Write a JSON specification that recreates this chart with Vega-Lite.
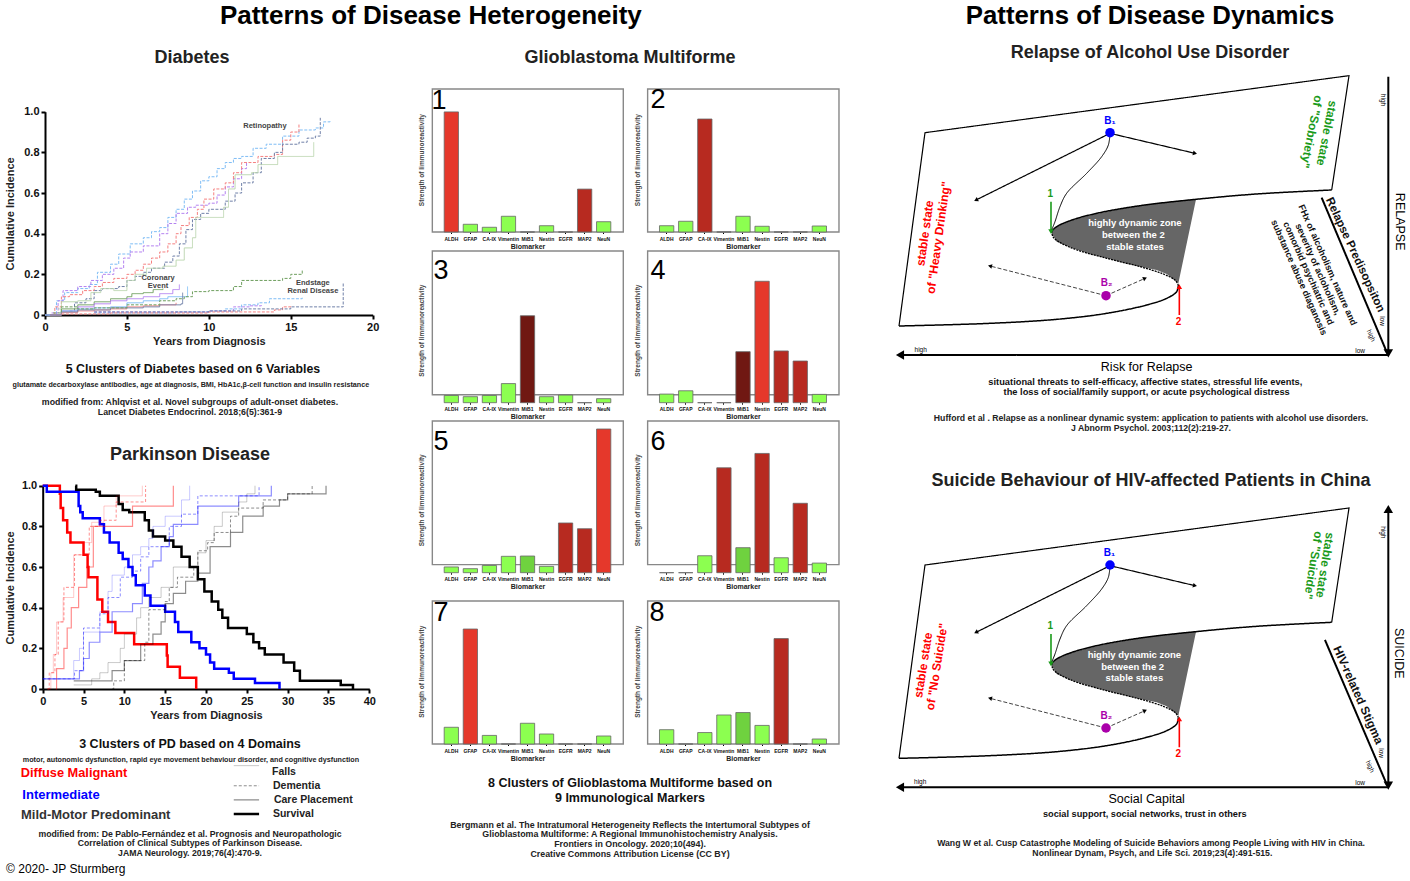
{"$schema":"https://vega.github.io/schema/vega-lite/v6.json","width":1410,"height":881,"padding":0,"autosize":{"type":"none"},"background":"white",
"config":{"font":"Liberation Sans","view":{"stroke":null},"legend":{"disable":true},"axis":{"grid":false,"domainColor":"#000","tickColor":"#000","domainWidth":2,"tickWidth":2,"tickSize":4,"labelFontWeight":"bold","titleFontWeight":"bold","labelFontSize":11,"titleFontSize":11,"labelColor":"#111","titleColor":"#222","labelPadding":2,"titlePadding":3,"labelFlush":false}},
"resolve":{"scale":{"x":"independent","y":"independent","color":"independent","opacity":"independent","strokeDash":"independent","strokeWidth":"independent","size":"independent","angle":"independent"},"axis":{"x":"independent","y":"independent"}},
"datasets":{
"gbm":[
{"c":1,"m":"ALDH","v":0.84,"l":"H1"},{"c":1,"m":"GFAP","v":0.054,"l":"L"},{"c":1,"m":"CA-IX","v":0.033,"l":"L"},{"c":1,"m":"Vimentin","v":0.11,"l":"L"},{"c":1,"m":"MiB1","v":0,"l":"L"},{"c":1,"m":"Nestin","v":0.044,"l":"L"},{"c":1,"m":"EGFR","v":0,"l":"L"},{"c":1,"m":"MAP2","v":0.3,"l":"H2"},{"c":1,"m":"NeuN","v":0.072,"l":"L"},
{"c":2,"m":"ALDH","v":0.044,"l":"L"},{"c":2,"m":"GFAP","v":0.075,"l":"L"},{"c":2,"m":"CA-IX","v":0.79,"l":"H2"},{"c":2,"m":"Vimentin","v":0,"l":"L"},{"c":2,"m":"MiB1","v":0.11,"l":"L"},{"c":2,"m":"Nestin","v":0.04,"l":"L"},{"c":2,"m":"EGFR","v":0,"l":"L"},{"c":2,"m":"MAP2","v":0,"l":"L"},{"c":2,"m":"NeuN","v":0.042,"l":"L"},
{"c":3,"m":"ALDH","v":0.05,"l":"L"},{"c":3,"m":"GFAP","v":0.042,"l":"L"},{"c":3,"m":"CA-IX","v":0.05,"l":"L"},{"c":3,"m":"Vimentin","v":0.133,"l":"L"},{"c":3,"m":"MiB1","v":0.605,"l":"H3"},{"c":3,"m":"Nestin","v":0.042,"l":"L"},{"c":3,"m":"EGFR","v":0.053,"l":"L"},{"c":3,"m":"MAP2","v":0,"l":"L"},{"c":3,"m":"NeuN","v":0.028,"l":"L"},
{"c":4,"m":"ALDH","v":0.06,"l":"L"},{"c":4,"m":"GFAP","v":0.083,"l":"L"},{"c":4,"m":"CA-IX","v":0,"l":"L"},{"c":4,"m":"Vimentin","v":0,"l":"L"},{"c":4,"m":"MiB1","v":0.355,"l":"H3"},{"c":4,"m":"Nestin","v":0.845,"l":"H1"},{"c":4,"m":"EGFR","v":0.36,"l":"H2"},{"c":4,"m":"MAP2","v":0.29,"l":"H2"},{"c":4,"m":"NeuN","v":0.058,"l":"L"},
{"c":5,"m":"ALDH","v":0.04,"l":"L"},{"c":5,"m":"GFAP","v":0.028,"l":"L"},{"c":5,"m":"CA-IX","v":0.05,"l":"L"},{"c":5,"m":"Vimentin","v":0.114,"l":"L"},{"c":5,"m":"MiB1","v":0.116,"l":"M"},{"c":5,"m":"Nestin","v":0.044,"l":"L"},{"c":5,"m":"EGFR","v":0.346,"l":"H2"},{"c":5,"m":"MAP2","v":0.306,"l":"H2"},{"c":5,"m":"NeuN","v":1,"l":"H1"},
{"c":6,"m":"ALDH","v":0,"l":"L"},{"c":6,"m":"GFAP","v":0,"l":"L"},{"c":6,"m":"CA-IX","v":0.118,"l":"L"},{"c":6,"m":"Vimentin","v":0.73,"l":"H2"},{"c":6,"m":"MiB1","v":0.174,"l":"M"},{"c":6,"m":"Nestin","v":0.83,"l":"H2"},{"c":6,"m":"EGFR","v":0.104,"l":"L"},{"c":6,"m":"MAP2","v":0.483,"l":"H2"},{"c":6,"m":"NeuN","v":0.067,"l":"L"},
{"c":7,"m":"ALDH","v":0.117,"l":"L"},{"c":7,"m":"GFAP","v":0.804,"l":"H1"},{"c":7,"m":"CA-IX","v":0.06,"l":"L"},{"c":7,"m":"Vimentin","v":0,"l":"L"},{"c":7,"m":"MiB1","v":0.145,"l":"L"},{"c":7,"m":"Nestin","v":0.07,"l":"L"},{"c":7,"m":"EGFR","v":0,"l":"L"},{"c":7,"m":"MAP2","v":0,"l":"L"},{"c":7,"m":"NeuN","v":0.056,"l":"L"},
{"c":8,"m":"ALDH","v":0.1,"l":"L"},{"c":8,"m":"GFAP","v":0,"l":"L"},{"c":8,"m":"CA-IX","v":0.08,"l":"L"},{"c":8,"m":"Vimentin","v":0.203,"l":"L"},{"c":8,"m":"MiB1","v":0.22,"l":"M"},{"c":8,"m":"Nestin","v":0.13,"l":"L"},{"c":8,"m":"EGFR","v":0.737,"l":"H2"},{"c":8,"m":"MAP2","v":0,"l":"L"},{"c":8,"m":"NeuN","v":0.035,"l":"L"}],
"zone":[{"x":31.09,"y":56.49,"y2":55.86},{"x":32.05,"y":57.66,"y2":53.6},{"x":34.62,"y":59.28,"y2":52.07},{"x":38.46,"y":60.72,"y2":50.27},{"x":41.67,"y":61.71,"y2":49.1},{"x":44.87,"y":62.61,"y2":47.93},{"x":48.08,"y":63.33,"y2":46.85},{"x":51.28,"y":63.96,"y2":45.95},{"x":53.21,"y":64.23,"y2":44.86},{"x":55.45,"y":64.68,"y2":42.34},{"x":58.85,"y":65.05,"y2":65.05}],
"straight":[
{"s":"edge","k":"edge","o":0,"x":1.73,"y":30.81},{"s":"edge","k":"edge","o":1,"x":6.73,"y":83.06},{"s":"edge","k":"edge","o":2,"x":88.27,"y":98.47},{"s":"edge","k":"edge","o":3,"x":84.94,"y":67.57},
{"s":"a1","k":"arrow","o":0,"x":42.31,"y":82.88},{"s":"a1","k":"arrow","o":1,"x":16.54,"y":64.86},
{"s":"a2","k":"arrow","o":0,"x":42.31,"y":82.88},{"s":"a2","k":"arrow","o":1,"x":58.65,"y":77.48},
{"s":"d1","k":"dash","o":0,"x":41.54,"y":39.01},{"s":"d1","k":"dash","o":1,"x":19.23,"y":47.03},
{"s":"d2","k":"dash","o":0,"x":41.54,"y":39.01},{"s":"d2","k":"dash","o":1,"x":49.04,"y":43.69},
{"s":"gr","k":"green","o":0,"x":30.96,"y":64.41},{"s":"gr","k":"green","o":1,"x":30.96,"y":56.31},
{"s":"rd","k":"red","o":0,"x":55.64,"y":33.78},{"s":"rd","k":"red","o":1,"x":55.64,"y":41.44},
{"s":"ah","k":"axis","o":0,"x":95.83,"y":22.97},{"s":"ah","k":"axis","o":1,"x":1.92,"y":22.97},
{"s":"av","k":"axis","o":0,"x":95.83,"y":98.2},{"s":"av","k":"axis","o":1,"x":95.83,"y":23.42},
{"s":"dg","k":"axis","p":1,"o":0,"x":83.01,"y":65.5},{"s":"dg","k":"axis","p":1,"o":1,"x":95.5,"y":23.87},
{"s":"dg","k":"axis","p":2,"o":0,"x":83.65,"y":62.8},{"s":"dg","k":"axis","p":2,"o":1,"x":95.5,"y":23.87}],
"curves":[
{"s":"up","k":"solid","o":0,"x":84.94,"y":67.57},{"s":"up","k":"solid","o":1,"x":70.51,"y":66.49},{"s":"up","k":"solid","o":2,"x":58.85,"y":65.05},{"s":"up","k":"solid","o":3,"x":48.08,"y":63.33},{"s":"up","k":"solid","o":4,"x":39.74,"y":61.26},{"s":"up","k":"solid","o":5,"x":34.62,"y":59.28},{"s":"up","k":"solid","o":6,"x":32.05,"y":57.66},{"s":"up","k":"solid","o":7,"x":31.09,"y":56.49},
{"s":"fo","k":"dash","o":0,"x":31.09,"y":56.49},{"s":"fo","k":"dash","o":1,"x":31.41,"y":54.77},{"s":"fo","k":"dash","o":2,"x":34.62,"y":52.07},{"s":"fo","k":"dash","o":3,"x":41.67,"y":49.1},{"s":"fo","k":"dash","o":4,"x":48.08,"y":46.85},{"s":"fo","k":"dash","o":5,"x":52.56,"y":44.86},{"s":"fo","k":"dash","o":6,"x":54.81,"y":43.24},{"s":"fo","k":"dash","o":7,"x":55.45,"y":41.89},
{"s":"lo","k":"solid","o":0,"x":55.45,"y":41.89},{"s":"lo","k":"solid","o":1,"x":55.13,"y":40.09},{"s":"lo","k":"solid","o":2,"x":53.21,"y":38.29},{"s":"lo","k":"solid","o":3,"x":49.36,"y":36.49},{"s":"lo","k":"solid","o":4,"x":41.67,"y":34.23},{"s":"lo","k":"solid","o":5,"x":32.05,"y":32.61},{"s":"lo","k":"solid","o":6,"x":19.23,"y":31.53},{"s":"lo","k":"solid","o":7,"x":1.73,"y":30.81},
{"s":"b1","k":"thin","o":0,"x":42.31,"y":82.88},{"s":"b1","k":"thin","o":1,"x":41.99,"y":79.73},{"s":"b1","k":"thin","o":2,"x":40.71,"y":76.58},{"s":"b1","k":"thin","o":3,"x":37.82,"y":72.07},{"s":"b1","k":"thin","o":4,"x":33.97,"y":66.67},{"s":"b1","k":"thin","o":5,"x":32.69,"y":63.06},{"s":"b1","k":"thin","o":6,"x":31.73,"y":59.01},{"s":"b1","k":"thin","o":7,"x":31.09,"y":56.76}],
"heads":[{"x":16.54,"y":64.86,"a":243.6,"k":"small"},{"x":58.65,"y":77.48,"a":103,"k":"small"},{"x":19.23,"y":47.03,"a":284,"k":"small"},{"x":49.04,"y":43.69,"a":66,"k":"small"},{"x":30.96,"y":56.31,"a":180,"k":"green"},{"x":55.64,"y":41.44,"a":0,"k":"red"},{"x":1.92,"y":22.97,"a":270,"k":"big"},{"x":95.83,"y":23.42,"a":180,"k":"big"},{"x":95.83,"y":98.2,"a":0,"k":"big","p":2}],
"dots":[{"x":42.31,"y":83.06,"k":"B1"},{"x":41.54,"y":39.01,"k":"B2"}]
},
"layer":[
{"data":{"values":[
{"e":"R","c":"blue","x":0.2,"y":0},{"e":"R","c":"blue","x":0.7,"y":0.07},{"e":"R","c":"blue","x":1.2,"y":0.11},{"e":"R","c":"blue","x":2,"y":0.13},{"e":"R","c":"blue","x":2.7,"y":0.15},{"e":"R","c":"blue","x":3.2,"y":0.21},{"e":"R","c":"blue","x":4,"y":0.25},{"e":"R","c":"blue","x":4.5,"y":0.3},{"e":"R","c":"blue","x":5.2,"y":0.35},{"e":"R","c":"blue","x":6,"y":0.38},{"e":"R","c":"blue","x":6.5,"y":0.41},{"e":"R","c":"blue","x":7,"y":0.43},{"e":"R","c":"blue","x":7.5,"y":0.48},{"e":"R","c":"blue","x":8,"y":0.52},{"e":"R","c":"blue","x":8.5,"y":0.57},{"e":"R","c":"blue","x":9,"y":0.61},{"e":"R","c":"blue","x":9.5,"y":0.66},{"e":"R","c":"blue","x":10,"y":0.68},{"e":"R","c":"blue","x":10.5,"y":0.72},{"e":"R","c":"blue","x":11,"y":0.75},{"e":"R","c":"blue","x":11.5,"y":0.77},{"e":"R","c":"blue","x":12,"y":0.78},{"e":"R","c":"blue","x":12.7,"y":0.82},{"e":"R","c":"blue","x":13.5,"y":0.84},{"e":"R","c":"blue","x":14.5,"y":0.88},{"e":"R","c":"blue","x":15.5,"y":0.91},{"e":"R","c":"blue","x":16.5,"y":0.92},{"e":"R","c":"blue","x":17,"y":0.95},{"e":"R","c":"blue","x":17.4,"y":0.96},
{"e":"R","c":"purple","x":0.4,"y":0.01},{"e":"R","c":"purple","x":0.8,"y":0.07},{"e":"R","c":"purple","x":1.1,"y":0.12},{"e":"R","c":"purple","x":2,"y":0.14},{"e":"R","c":"purple","x":2.8,"y":0.17},{"e":"R","c":"purple","x":3.5,"y":0.2},{"e":"R","c":"purple","x":4.2,"y":0.23},{"e":"R","c":"purple","x":4.8,"y":0.28},{"e":"R","c":"purple","x":5.2,"y":0.31},{"e":"R","c":"purple","x":6,"y":0.34},{"e":"R","c":"purple","x":7,"y":0.4},{"e":"R","c":"purple","x":7.5,"y":0.45},{"e":"R","c":"purple","x":8,"y":0.5},{"e":"R","c":"purple","x":8.7,"y":0.53},{"e":"R","c":"purple","x":9.2,"y":0.54},{"e":"R","c":"purple","x":10,"y":0.55},{"e":"R","c":"purple","x":10.5,"y":0.59},{"e":"R","c":"purple","x":11,"y":0.63},{"e":"R","c":"purple","x":11.5,"y":0.67},{"e":"R","c":"purple","x":12,"y":0.72},{"e":"R","c":"purple","x":12.3,"y":0.75},
{"e":"R","c":"red","x":0.3,"y":0},{"e":"R","c":"red","x":0.6,"y":0.04},{"e":"R","c":"red","x":1,"y":0.09},{"e":"R","c":"red","x":1.5,"y":0.1},{"e":"R","c":"red","x":2.3,"y":0.12},{"e":"R","c":"red","x":3,"y":0.14},{"e":"R","c":"red","x":3.5,"y":0.16},{"e":"R","c":"red","x":4.2,"y":0.18},{"e":"R","c":"red","x":5,"y":0.2},{"e":"R","c":"red","x":5.5,"y":0.22},{"e":"R","c":"red","x":6,"y":0.25},{"e":"R","c":"red","x":6.5,"y":0.28},{"e":"R","c":"red","x":7,"y":0.31},{"e":"R","c":"red","x":7.5,"y":0.35},{"e":"R","c":"red","x":8,"y":0.4},{"e":"R","c":"red","x":8.3,"y":0.44},{"e":"R","c":"red","x":8.8,"y":0.48},{"e":"R","c":"red","x":9.3,"y":0.52},{"e":"R","c":"red","x":9.7,"y":0.57},{"e":"R","c":"red","x":10.3,"y":0.62},{"e":"R","c":"red","x":11,"y":0.65},{"e":"R","c":"red","x":11.5,"y":0.7},{"e":"R","c":"red","x":12,"y":0.75},{"e":"R","c":"red","x":13,"y":0.78},{"e":"R","c":"red","x":14,"y":0.79},{"e":"R","c":"red","x":14.5,"y":0.86},{"e":"R","c":"red","x":15,"y":0.9},{"e":"R","c":"red","x":15.5,"y":0.94},
{"e":"R","c":"slate","x":1.5,"y":0.02},{"e":"R","c":"slate","x":1.8,"y":0.06},{"e":"R","c":"slate","x":2.5,"y":0.08},{"e":"R","c":"slate","x":3,"y":0.12},{"e":"R","c":"slate","x":3.5,"y":0.13},{"e":"R","c":"slate","x":4.5,"y":0.14},{"e":"R","c":"slate","x":5,"y":0.17},{"e":"R","c":"slate","x":5.5,"y":0.19},{"e":"R","c":"slate","x":6,"y":0.21},{"e":"R","c":"slate","x":6.5,"y":0.23},{"e":"R","c":"slate","x":7.3,"y":0.26},{"e":"R","c":"slate","x":7.8,"y":0.29},{"e":"R","c":"slate","x":8.2,"y":0.35},{"e":"R","c":"slate","x":8.6,"y":0.42},{"e":"R","c":"slate","x":9,"y":0.47},{"e":"R","c":"slate","x":9.5,"y":0.5},{"e":"R","c":"slate","x":10,"y":0.52},{"e":"R","c":"slate","x":11,"y":0.56},{"e":"R","c":"slate","x":11.6,"y":0.6},{"e":"R","c":"slate","x":12,"y":0.65},{"e":"R","c":"slate","x":12.7,"y":0.7},{"e":"R","c":"slate","x":13.2,"y":0.77},{"e":"R","c":"slate","x":14,"y":0.8},{"e":"R","c":"slate","x":14.5,"y":0.84},{"e":"R","c":"slate","x":15.5,"y":0.85},{"e":"R","c":"slate","x":16,"y":0.87},{"e":"R","c":"slate","x":16.5,"y":0.88},{"e":"R","c":"slate","x":16.8,"y":0.97},
{"e":"C","c":"lgreen","x":0.8,"y":0.03},{"e":"C","c":"lgreen","x":1,"y":0.065},{"e":"C","c":"lgreen","x":2,"y":0.07},{"e":"C","c":"lgreen","x":2.8,"y":0.11},{"e":"C","c":"lgreen","x":3.4,"y":0.13},{"e":"C","c":"lgreen","x":4.2,"y":0.12},{"e":"C","c":"lgreen","x":5,"y":0.17},{"e":"C","c":"lgreen","x":5.5,"y":0.2},{"e":"C","c":"lgreen","x":6.2,"y":0.23},{"e":"C","c":"lgreen","x":7.2,"y":0.24},{"e":"C","c":"lgreen","x":8,"y":0.27},{"e":"C","c":"lgreen","x":8.5,"y":0.33},{"e":"C","c":"lgreen","x":9,"y":0.38},{"e":"C","c":"lgreen","x":9.2,"y":0.48},{"e":"C","c":"lgreen","x":10.5,"y":0.48},{"e":"C","c":"lgreen","x":10.9,"y":0.53},{"e":"C","c":"lgreen","x":11.2,"y":0.62},{"e":"C","c":"lgreen","x":11.6,"y":0.69},{"e":"C","c":"lgreen","x":12.6,"y":0.7},{"e":"C","c":"lgreen","x":13,"y":0.74},{"e":"C","c":"lgreen","x":14.2,"y":0.78},{"e":"C","c":"lgreen","x":16.3,"y":0.78},{"e":"C","c":"lgreen","x":16.4,"y":0.85},
{"e":"C","c":"green","x":0,"y":0},{"e":"C","c":"green","x":1,"y":0.03},{"e":"C","c":"green","x":2,"y":0.05},{"e":"C","c":"green","x":3,"y":0.065},{"e":"C","c":"green","x":4,"y":0.08},{"e":"C","c":"green","x":5,"y":0.09},{"e":"C","c":"green","x":5.3,"y":0.105},{"e":"C","c":"green","x":6,"y":0.11},{"e":"C","c":"green","x":6.6,"y":0.125},{"e":"C","c":"green","x":7.2,"y":0.13},
{"e":"C","c":"purple","x":0,"y":0},{"e":"C","c":"purple","x":1,"y":0.02},{"e":"C","c":"purple","x":2,"y":0.04},{"e":"C","c":"purple","x":3,"y":0.055},{"e":"C","c":"purple","x":4,"y":0.07},{"e":"C","c":"purple","x":5,"y":0.08},{"e":"C","c":"purple","x":6,"y":0.09},{"e":"C","c":"purple","x":7,"y":0.105},{"e":"C","c":"purple","x":7.8,"y":0.125},{"e":"C","c":"purple","x":8.2,"y":0.15},
{"e":"C","c":"blue","x":0,"y":0},{"e":"C","c":"blue","x":1,"y":0.02},{"e":"C","c":"blue","x":2,"y":0.03},{"e":"C","c":"blue","x":3,"y":0.035},{"e":"C","c":"blue","x":4,"y":0.04},{"e":"C","c":"blue","x":5,"y":0.06},{"e":"C","c":"blue","x":6,"y":0.07},{"e":"C","c":"blue","x":7,"y":0.08},{"e":"C","c":"blue","x":7.5,"y":0.09},{"e":"C","c":"blue","x":8.5,"y":0.09},{"e":"C","c":"blue","x":8.7,"y":0.14},
{"e":"C","c":"red","x":0.3,"y":0},{"e":"C","c":"red","x":1,"y":0.012},{"e":"C","c":"red","x":2,"y":0.02},{"e":"C","c":"red","x":3,"y":0.025},{"e":"C","c":"red","x":4,"y":0.03},{"e":"C","c":"red","x":5,"y":0.04},{"e":"C","c":"red","x":6,"y":0.045},{"e":"C","c":"red","x":7,"y":0.05},{"e":"C","c":"red","x":8,"y":0.06},
{"e":"C","c":"slate","x":0.3,"y":0},{"e":"C","c":"slate","x":1,"y":0.015},{"e":"C","c":"slate","x":2,"y":0.025},{"e":"C","c":"slate","x":4,"y":0.035},{"e":"C","c":"slate","x":6,"y":0.04},{"e":"C","c":"slate","x":7,"y":0.05},{"e":"C","c":"slate","x":8.3,"y":0.055},{"e":"C","c":"slate","x":8.4,"y":0.11},
{"e":"E","c":"green","x":0.5,"y":0.01},{"e":"E","c":"green","x":1,"y":0.04},{"e":"E","c":"green","x":2,"y":0.03},{"e":"E","c":"green","x":3,"y":0.035},{"e":"E","c":"green","x":5,"y":0.05},{"e":"E","c":"green","x":7,"y":0.07},{"e":"E","c":"green","x":8,"y":0.08},{"e":"E","c":"green","x":8.5,"y":0.09},{"e":"E","c":"green","x":9,"y":0.115},{"e":"E","c":"green","x":10,"y":0.12},{"e":"E","c":"green","x":11,"y":0.12},{"e":"E","c":"green","x":11.5,"y":0.14},{"e":"E","c":"green","x":12,"y":0.17},{"e":"E","c":"green","x":13,"y":0.17},{"e":"E","c":"green","x":14.5,"y":0.18},{"e":"E","c":"green","x":15,"y":0.2},{"e":"E","c":"green","x":15.7,"y":0.22},
{"e":"E","c":"blue","x":3,"y":0.01},{"e":"E","c":"blue","x":8,"y":0.015},{"e":"E","c":"blue","x":10,"y":0.02},{"e":"E","c":"blue","x":11,"y":0.03},{"e":"E","c":"blue","x":12,"y":0.05},{"e":"E","c":"blue","x":13,"y":0.06},{"e":"E","c":"blue","x":13.7,"y":0.08},{"e":"E","c":"blue","x":15.7,"y":0.085},
{"e":"E","c":"purple","x":3,"y":0.015},{"e":"E","c":"purple","x":8,"y":0.015},{"e":"E","c":"purple","x":10,"y":0.02},{"e":"E","c":"purple","x":11.5,"y":0.04},{"e":"E","c":"purple","x":12.5,"y":0.045},{"e":"E","c":"purple","x":13.2,"y":0.05},
{"e":"E","c":"red","x":1,"y":0.005},{"e":"E","c":"red","x":4,"y":0.01},{"e":"E","c":"red","x":8,"y":0.01},{"e":"E","c":"red","x":10,"y":0.015},{"e":"E","c":"red","x":13,"y":0.015},{"e":"E","c":"red","x":14,"y":0.025},{"e":"E","c":"red","x":14.5,"y":0.04},{"e":"E","c":"red","x":15,"y":0.05},
{"e":"E","c":"slate","x":3,"y":0.015},{"e":"E","c":"slate","x":9,"y":0.015},{"e":"E","c":"slate","x":10,"y":0.02},{"e":"E","c":"slate","x":12,"y":0.03},{"e":"E","c":"slate","x":13,"y":0.03},{"e":"E","c":"slate","x":15,"y":0.04},{"e":"E","c":"slate","x":18,"y":0.04},{"e":"E","c":"slate","x":18.2,"y":0.16}]},
"mark":{"type":"line","interpolate":"step-after","strokeWidth":1},
"encoding":{"x":{"field":"x","type":"quantitative","scale":{"domain":[0,20],"range":[45,372.7]},"axis":{"orient":"bottom","offset":-566,"values":[0,5,10,15,20],"title":"Years from Diagnosis"}},"y":{"field":"y","type":"quantitative","scale":{"domain":[0,1],"range":[315,111.7]},"axis":{"orient":"left","offset":-45,"values":[0,0.2,0.4,0.6,0.8,1],"title":"Cumulative Incidence","titlePadding":8,"labelExpr":"datum.value===0?'0':format(datum.value,'.1f')"}},"color":{"field":"c","type":"nominal","scale":{"domain":["blue","purple","red","slate","lgreen","green"],"range":["#7fbdf5","#b482f0","#f58080","#7080a8","#bcd6b0","#6f9f5f"]}},"strokeDash":{"field":"e","type":"nominal","scale":{"domain":["R","C","E"],"range":[[3,1.5],[1,0],[3,1.5]]}}}},
{"data":{"values":[
{"t":"Patterns of Disease Heterogeneity","r":"title","x":23.55,"y":1.472},{"t":"Diabetes","r":"head","x":8.97,"y":1.264},
{"t":"Retinopathy","r":"ann","x":13.42,"y":0.93},{"t":"Coronary","r":"ann","x":6.9,"y":0.182},{"t":"Event","r":"ann","x":6.9,"y":0.143},{"t":"Endstage","r":"ann","x":16.35,"y":0.157},{"t":"Renal Disease","r":"ann","x":16.35,"y":0.118},
{"t":"5 Clusters of Diabetes based on 6 Variables","r":"sub","x":9.03,"y":-0.266},
{"t":"glutamate decarboxylase antibodies, age at diagnosis, BMI, HbA1c,β-cell function and insulin resistance","r":"note","x":8.9,"y":-0.344},
{"t":"modified from: Ahlqvist et al. Novel subgroups of adult-onset diabetes.","r":"cap","x":8.85,"y":-0.428},{"t":"Lancet Diabetes Endocrinol. 2018;6(5):361-9","r":"cap","x":8.85,"y":-0.477}]},
"mark":{"type":"text","fontWeight":"bold","align":"center","baseline":"middle"},
"encoding":{"x":{"field":"x","type":"quantitative","scale":{"domain":[0,20],"range":[45,372.7]},"axis":null},"y":{"field":"y","type":"quantitative","scale":{"domain":[0,1],"range":[315,111.7]},"axis":null},"text":{"field":"t"},"size":{"field":"r","type":"nominal","scale":{"type":"ordinal","domain":["title","head","sub","note","cap","ann"],"range":[26,18,12.3,7.2,8.8,7.5]}},"color":{"field":"r","type":"nominal","scale":{"domain":["title","head","sub","note","cap","ann"],"range":["#000","#222","#111","#222","#222","#444"]}}}},
{"data":{"values":[
{"c":"M","m":"S","x":0,"y":1},{"c":"M","m":"S","x":2.1,"y":0.96},{"c":"M","m":"S","x":2.2,"y":0.89},{"c":"M","m":"S","x":2.5,"y":0.83},{"c":"M","m":"S","x":3,"y":0.77},{"c":"M","m":"S","x":3.4,"y":0.72},{"c":"M","m":"S","x":5,"y":0.66},{"c":"M","m":"S","x":5.5,"y":0.6},{"c":"M","m":"S","x":5.6,"y":0.55},{"c":"M","m":"S","x":6.7,"y":0.44},{"c":"M","m":"S","x":7.3,"y":0.38},{"c":"M","m":"S","x":8,"y":0.33},{"c":"M","m":"S","x":8.9,"y":0.275},{"c":"M","m":"S","x":11.2,"y":0.22},{"c":"M","m":"S","x":15.2,"y":0.165},{"c":"M","m":"S","x":15.3,"y":0.11},{"c":"M","m":"S","x":16.8,"y":0.055},{"c":"M","m":"S","x":18.8,"y":0},
{"c":"I","m":"S","x":0,"y":1},{"c":"I","m":"S","x":0.5,"y":0.97},{"c":"I","m":"S","x":4.4,"y":0.9},{"c":"I","m":"S","x":4.6,"y":0.87},{"c":"I","m":"S","x":4.9,"y":0.84},{"c":"I","m":"S","x":7,"y":0.81},{"c":"I","m":"S","x":7.5,"y":0.77},{"c":"I","m":"S","x":8.2,"y":0.72},{"c":"I","m":"S","x":9.3,"y":0.67},{"c":"I","m":"S","x":9.8,"y":0.64},{"c":"I","m":"S","x":10.5,"y":0.6},{"c":"I","m":"S","x":11,"y":0.56},{"c":"I","m":"S","x":11.4,"y":0.51},{"c":"I","m":"S","x":12.5,"y":0.46},{"c":"I","m":"S","x":13.2,"y":0.41},{"c":"I","m":"S","x":15,"y":0.38},{"c":"I","m":"S","x":16.2,"y":0.33},{"c":"I","m":"S","x":16.6,"y":0.28},{"c":"I","m":"S","x":18.2,"y":0.23},{"c":"I","m":"S","x":19.2,"y":0.2},{"c":"I","m":"S","x":20,"y":0.17},{"c":"I","m":"S","x":20.5,"y":0.13},{"c":"I","m":"S","x":21,"y":0.1},{"c":"I","m":"S","x":22.8,"y":0.08},{"c":"I","m":"S","x":23.4,"y":0.05},{"c":"I","m":"S","x":26,"y":0.03},{"c":"I","m":"S","x":29,"y":0},
{"c":"K","m":"S","x":4,"y":1},{"c":"K","m":"S","x":4.1,"y":0.98},{"c":"K","m":"S","x":6.5,"y":0.97},{"c":"K","m":"S","x":7,"y":0.95},{"c":"K","m":"S","x":9.3,"y":0.91},{"c":"K","m":"S","x":9.8,"y":0.88},{"c":"K","m":"S","x":10.6,"y":0.87},{"c":"K","m":"S","x":12.5,"y":0.83},{"c":"K","m":"S","x":13,"y":0.78},{"c":"K","m":"S","x":13.5,"y":0.75},{"c":"K","m":"S","x":15,"y":0.73},{"c":"K","m":"S","x":16,"y":0.7},{"c":"K","m":"S","x":17,"y":0.65},{"c":"K","m":"S","x":18,"y":0.6},{"c":"K","m":"S","x":19,"y":0.54},{"c":"K","m":"S","x":19.8,"y":0.48},{"c":"K","m":"S","x":20.7,"y":0.43},{"c":"K","m":"S","x":21.5,"y":0.39},{"c":"K","m":"S","x":22,"y":0.35},{"c":"K","m":"S","x":22.7,"y":0.3},{"c":"K","m":"S","x":25,"y":0.27},{"c":"K","m":"S","x":25.8,"y":0.23},{"c":"K","m":"S","x":26.5,"y":0.2},{"c":"K","m":"S","x":27.2,"y":0.17},{"c":"K","m":"S","x":29.5,"y":0.13},{"c":"K","m":"S","x":30.8,"y":0.09},{"c":"K","m":"S","x":31.5,"y":0.04},{"c":"K","m":"S","x":36.5,"y":0.02},{"c":"K","m":"S","x":38,"y":0},
{"c":"M","m":"F","x":0.5,"y":0},{"c":"M","m":"F","x":1,"y":0.08},{"c":"M","m":"F","x":1.3,"y":0.17},{"c":"M","m":"F","x":1.7,"y":0.33},{"c":"M","m":"F","x":2.5,"y":0.45},{"c":"M","m":"F","x":3.8,"y":0.66},{"c":"M","m":"F","x":5,"y":0.72},{"c":"M","m":"F","x":6,"y":0.82},{"c":"M","m":"F","x":7.5,"y":0.9},{"c":"M","m":"F","x":9,"y":0.95},{"c":"M","m":"F","x":12.2,"y":1},
{"c":"M","m":"D","x":0.6,"y":0},{"c":"M","m":"D","x":0.8,"y":0.08},{"c":"M","m":"D","x":1.5,"y":0.17},{"c":"M","m":"D","x":1.9,"y":0.33},{"c":"M","m":"D","x":2.6,"y":0.5},{"c":"M","m":"D","x":3.9,"y":0.66},{"c":"M","m":"D","x":5.7,"y":0.8},{"c":"M","m":"D","x":7,"y":0.83},{"c":"M","m":"D","x":9,"y":0.92},{"c":"M","m":"D","x":12.6,"y":1},
{"c":"M","m":"C","x":1.6,"y":0},{"c":"M","m":"C","x":1.7,"y":0.1},{"c":"M","m":"C","x":2.6,"y":0.2},{"c":"M","m":"C","x":3,"y":0.3},{"c":"M","m":"C","x":3.5,"y":0.4},{"c":"M","m":"C","x":4.4,"y":0.5},{"c":"M","m":"C","x":5.4,"y":0.6},{"c":"M","m":"C","x":6.2,"y":0.8},{"c":"M","m":"C","x":11,"y":0.9},{"c":"M","m":"C","x":16,"y":1},
{"c":"I","m":"F","x":0,"y":0.05},{"c":"I","m":"F","x":3,"y":0.05},{"c":"I","m":"F","x":3.8,"y":0.14},{"c":"I","m":"F","x":4.5,"y":0.2},{"c":"I","m":"F","x":5,"y":0.28},{"c":"I","m":"F","x":7,"y":0.38},{"c":"I","m":"F","x":8,"y":0.48},{"c":"I","m":"F","x":8.5,"y":0.56},{"c":"I","m":"F","x":10,"y":0.6},{"c":"I","m":"F","x":11,"y":0.66},{"c":"I","m":"F","x":12,"y":0.7},{"c":"I","m":"F","x":13,"y":0.74},{"c":"I","m":"F","x":13.5,"y":0.8},{"c":"I","m":"F","x":15,"y":0.85},{"c":"I","m":"F","x":17,"y":0.93},{"c":"I","m":"F","x":18,"y":1},
{"c":"I","m":"D","x":0,"y":0.05},{"c":"I","m":"D","x":3.9,"y":0.09},{"c":"I","m":"D","x":5,"y":0.3},{"c":"I","m":"D","x":7,"y":0.37},{"c":"I","m":"D","x":8,"y":0.45},{"c":"I","m":"D","x":9.5,"y":0.55},{"c":"I","m":"D","x":11,"y":0.58},{"c":"I","m":"D","x":12,"y":0.65},{"c":"I","m":"D","x":13,"y":0.7},{"c":"I","m":"D","x":15.5,"y":0.8},{"c":"I","m":"D","x":17,"y":0.86},{"c":"I","m":"D","x":19,"y":0.95},{"c":"I","m":"D","x":26.5,"y":1},
{"c":"I","m":"C","x":0,"y":0.05},{"c":"I","m":"C","x":4.5,"y":0.09},{"c":"I","m":"C","x":5,"y":0.15},{"c":"I","m":"C","x":5.7,"y":0.23},{"c":"I","m":"C","x":7,"y":0.28},{"c":"I","m":"C","x":8.5,"y":0.38},{"c":"I","m":"C","x":11,"y":0.42},{"c":"I","m":"C","x":12.2,"y":0.52},{"c":"I","m":"C","x":13,"y":0.6},{"c":"I","m":"C","x":13.5,"y":0.63},{"c":"I","m":"C","x":14.5,"y":0.7},{"c":"I","m":"C","x":15.5,"y":0.75},{"c":"I","m":"C","x":16,"y":0.81},{"c":"I","m":"C","x":19,"y":0.9},{"c":"I","m":"C","x":24,"y":0.95},{"c":"I","m":"C","x":28,"y":1},
{"c":"K","m":"F","x":3.8,"y":0.02},{"c":"K","m":"F","x":6,"y":0.05},{"c":"K","m":"F","x":7,"y":0.08},{"c":"K","m":"F","x":8,"y":0.13},{"c":"K","m":"F","x":9.5,"y":0.2},{"c":"K","m":"F","x":10,"y":0.27},{"c":"K","m":"F","x":11.5,"y":0.35},{"c":"K","m":"F","x":12,"y":0.4},{"c":"K","m":"F","x":13,"y":0.45},{"c":"K","m":"F","x":14.5,"y":0.5},{"c":"K","m":"F","x":16,"y":0.6},{"c":"K","m":"F","x":19,"y":0.67},{"c":"K","m":"F","x":20,"y":0.73},{"c":"K","m":"F","x":21,"y":0.8},{"c":"K","m":"F","x":22,"y":0.87},{"c":"K","m":"F","x":24,"y":0.92},{"c":"K","m":"F","x":25,"y":0.96},{"c":"K","m":"F","x":26,"y":1},
{"c":"K","m":"D","x":8.5,"y":0},{"c":"K","m":"D","x":8.7,"y":0.04},{"c":"K","m":"D","x":10,"y":0.14},{"c":"K","m":"D","x":12.5,"y":0.23},{"c":"K","m":"D","x":13,"y":0.39},{"c":"K","m":"D","x":15,"y":0.43},{"c":"K","m":"D","x":15.5,"y":0.5},{"c":"K","m":"D","x":16.5,"y":0.55},{"c":"K","m":"D","x":18.5,"y":0.6},{"c":"K","m":"D","x":19,"y":0.68},{"c":"K","m":"D","x":20.2,"y":0.72},{"c":"K","m":"D","x":21,"y":0.77},{"c":"K","m":"D","x":23,"y":0.85},{"c":"K","m":"D","x":24,"y":0.89},{"c":"K","m":"D","x":27,"y":0.93},{"c":"K","m":"D","x":30,"y":0.96},{"c":"K","m":"D","x":33,"y":1},
{"c":"K","m":"C","x":3.8,"y":0.04},{"c":"K","m":"C","x":8.5,"y":0.09},{"c":"K","m":"C","x":10,"y":0.14},{"c":"K","m":"C","x":12,"y":0.22},{"c":"K","m":"C","x":13.5,"y":0.27},{"c":"K","m":"C","x":14.5,"y":0.33},{"c":"K","m":"C","x":15,"y":0.42},{"c":"K","m":"C","x":16,"y":0.47},{"c":"K","m":"C","x":17.5,"y":0.53},{"c":"K","m":"C","x":19,"y":0.57},{"c":"K","m":"C","x":20.5,"y":0.7},{"c":"K","m":"C","x":23,"y":0.77},{"c":"K","m":"C","x":24.5,"y":0.85},{"c":"K","m":"C","x":27,"y":0.9},{"c":"K","m":"C","x":29,"y":0.93},{"c":"K","m":"C","x":30,"y":0.96},{"c":"K","m":"C","x":34.7,"y":1},
{"c":"L","m":"F","x":23.4,"y":-0.377},{"c":"L","m":"F","x":26.5,"y":-0.377},{"c":"L","m":"D","x":23.4,"y":-0.476},{"c":"L","m":"D","x":26.5,"y":-0.476},{"c":"L","m":"C","x":23.4,"y":-0.545},{"c":"L","m":"C","x":26.5,"y":-0.545},{"c":"L","m":"S","x":23.4,"y":-0.615},{"c":"L","m":"S","x":26.5,"y":-0.615}]},
"mark":{"type":"line","interpolate":"step-after"},
"encoding":{"x":{"field":"x","type":"quantitative","scale":{"domain":[0,40],"range":[42.7,369.3]},"axis":{"orient":"bottom","offset":-192,"values":[0,5,10,15,20,25,30,35,40],"title":"Years from Diagnosis"}},"y":{"field":"y","type":"quantitative","scale":{"domain":[0,1],"range":[689,485.7]},"axis":{"orient":"left","offset":-42.7,"values":[0,0.2,0.4,0.6,0.8,1],"title":"Cumulative Incidence","titlePadding":6,"labelExpr":"datum.value===0?'0':format(datum.value,'.1f')"}},"color":{"field":"c","type":"nominal","scale":{"domain":["M","I","K","L"],"range":["#f00","#00f","#000","#000"]}},"strokeDash":{"field":"m","type":"nominal","scale":{"domain":["F","D","C","S"],"range":[[1,0],[3,2],[1,0],[1,0]]}},"opacity":{"field":"m","type":"nominal","scale":{"type":"ordinal","domain":["F","D","C","S"],"range":[0.22,0.45,0.45,1]}},"strokeWidth":{"field":"m","type":"nominal","scale":{"type":"ordinal","domain":["F","D","C","S"],"range":[1,1,1.2,2.5]}}}},
{"data":{"values":[
{"t":"Parkinson Disease","r":"head","x":18.04,"y":1.151},{"t":"3 Clusters of PD based on 4 Domains","r":"sub","x":18.04,"y":-0.27},
{"t":"motor, autonomic dysfunction, rapid eye movement behaviour disorder, and cognitive dysfunction","r":"note","x":18.16,"y":-0.349},
{"t":"Diffuse Malignant","r":"mal","x":3.83,"y":-0.411},{"t":"Intermediate","r":"int","x":2.24,"y":-0.52},{"t":"Mild-Motor Predominant","r":"mild","x":6.49,"y":-0.62},
{"t":"Falls","r":"leg","x":29.55,"y":-0.407},{"t":"Dementia","r":"leg","x":31.1,"y":-0.476},{"t":"Care Placement","r":"leg","x":33.14,"y":-0.545},{"t":"Survival","r":"leg","x":30.7,"y":-0.615},
{"t":"modified from: De Pablo-Fernández et al. Prognosis and Neuropathologic","r":"cap","x":18.04,"y":-0.712},{"t":"Correlation of Clinical Subtypes of Parkinson Disease.","r":"cap","x":18.04,"y":-0.757},{"t":"JAMA Neurology. 2019;76(4):470-9.","r":"cap","x":18.04,"y":-0.807}]},
"mark":{"type":"text","fontWeight":"bold","align":"center","baseline":"middle"},
"encoding":{"x":{"field":"x","type":"quantitative","scale":{"domain":[0,40],"range":[42.7,369.3]},"axis":null},"y":{"field":"y","type":"quantitative","scale":{"domain":[0,1],"range":[689,485.7]},"axis":null},"text":{"field":"t"},"size":{"field":"r","type":"nominal","scale":{"type":"ordinal","domain":["head","sub","note","cap","mal","int","mild","leg"],"range":[18,12.5,7.2,8.7,12.8,13,13,10.5]}},"color":{"field":"r","type":"nominal","scale":{"domain":["head","sub","note","cap","mal","int","mild","leg"],"range":["#222","#111","#222","#222","#f00","#00f","#333","#222"]}}}},
{"data":{"values":[{"t":"© 2020- JP Sturmberg","x":2.82,"y":-0.885}]},"mark":{"type":"text","align":"center","baseline":"middle","fontSize":12},
"encoding":{"x":{"field":"x","type":"quantitative","scale":{"domain":[0,40],"range":[42.7,369.3]},"axis":null},"y":{"field":"y","type":"quantitative","scale":{"domain":[0,1],"range":[689,485.7]},"axis":null},"text":{"field":"t"}}},
{"data":{"values":[{"x":4.03,"x2":48.44,"y":94.17,"y2":77.14},{"x":54.1,"x2":98.6,"y":94.17,"y2":77.14},{"x":4.03,"x2":48.44,"y":74.88,"y2":57.77},{"x":54.1,"x2":98.6,"y":74.88,"y2":57.77},{"x":4.03,"x2":48.44,"y":54.64,"y2":37.54},{"x":54.1,"x2":98.6,"y":54.64,"y2":37.54},{"x":4.03,"x2":48.44,"y":33.21,"y2":16.19},{"x":54.1,"x2":98.6,"y":33.21,"y2":16.19}]},
"mark":{"type":"rect","fillOpacity":0,"stroke":"#888","strokeWidth":1.4},
"encoding":{"x":{"field":"x","type":"quantitative","scale":{"domain":[0,100],"range":[415,845]},"axis":null},"x2":{"field":"x2"},"y":{"field":"y","type":"quantitative","scale":{"domain":[0,100],"range":[880,40]},"axis":null},"y2":{"field":"y2"}}},
{"data":{"values":[{"t":"1","x":5.6,"y":92.7},{"t":"2","x":56.5,"y":92.9},{"t":"3","x":6.05,"y":72.5},{"t":"4","x":56.5,"y":72.5},{"t":"5","x":6.05,"y":52.1},{"t":"6","x":56.5,"y":52.1},{"t":"7","x":6.05,"y":31.8},{"t":"8","x":56.3,"y":31.8}]},
"mark":{"type":"text","align":"center","baseline":"middle","fontSize":27},
"encoding":{"x":{"field":"x","type":"quantitative","scale":{"domain":[0,100],"range":[415,845]},"axis":null},"y":{"field":"y","type":"quantitative","scale":{"domain":[0,100],"range":[880,40]},"axis":null},"text":{"field":"t"}}},
{"data":{"values":[
{"t":"Glioblastoma Multiforme","r":"head","x":50,"y":97.86},{"t":"8 Clusters of Glioblastoma Multiforme based on","r":"sub","x":50,"y":11.55},{"t":"9 Immunological Markers","r":"sub","x":50,"y":9.76},
{"t":"Bergmann  et al. The Intratumoral Heterogeneity Reflects the Intertumoral Subtypes of","r":"cap","x":50,"y":6.55},{"t":"Glioblastoma Multiforme: A Regional Immunohistochemistry Analysis.","r":"cap","x":50,"y":5.48},{"t":"Frontiers in Oncology. 2020;10(494).","r":"cap","x":50,"y":4.29},{"t":"Creative Commons Attribution License (CC BY)","r":"cap","x":50,"y":3.1},
{"t":"Strength of Iimmunoreactivity","r":"yt","x":1.6,"y":85.7},{"t":"Strength of Iimmunoreactivity","r":"yt","x":51.8,"y":85.7},{"t":"Strength of Iimmunoreactivity","r":"yt","x":1.6,"y":65.4},{"t":"Strength of Iimmunoreactivity","r":"yt","x":51.8,"y":65.4},{"t":"Strength of Iimmunoreactivity","r":"yt","x":1.6,"y":45.2},{"t":"Strength of Iimmunoreactivity","r":"yt","x":51.8,"y":45.2},{"t":"Strength of Iimmunoreactivity","r":"yt","x":1.6,"y":24.8},{"t":"Strength of Iimmunoreactivity","r":"yt","x":51.8,"y":24.8}]},
"mark":{"type":"text","fontWeight":"bold","align":"center","baseline":"middle"},
"encoding":{"x":{"field":"x","type":"quantitative","scale":{"domain":[0,100],"range":[415,845]},"axis":null},"y":{"field":"y","type":"quantitative","scale":{"domain":[0,100],"range":[880,40]},"axis":null},"text":{"field":"t"},"size":{"field":"r","type":"nominal","scale":{"type":"ordinal","domain":["head","sub","cap","yt"],"range":[18,12.5,8.85,6.5]}},"angle":{"field":"r","type":"nominal","scale":{"type":"ordinal","domain":["head","sub","cap","yt"],"range":[0,0,0,270]}},"color":{"field":"r","type":"nominal","scale":{"domain":["head","sub","cap","yt"],"range":["#222","#111","#222","#444"]}}}},
{"data":{"name":"gbm"},"transform":[{"filter":"datum.c===1"}],"mark":{"type":"bar","stroke":"#666","strokeWidth":0.8},"encoding":{"x":{"field":"m","type":"nominal","sort":null,"scale":{"domain":["ALDH","GFAP","CA-IX","Vimentin","MiB1","Nestin","EGFR","MAP2","NeuN"],"range":[441.8,613.2],"paddingInner":0.25,"paddingOuter":0.125},"axis":{"orient":"bottom","offset":-649,"title":"Biomarker","titleFontSize":7,"labelFontSize":5,"labelAngle":0,"domain":false,"tickSize":1.5,"tickWidth":1,"labelPadding":2.5,"titlePadding":1,"labelOverlap":false}},"y":{"field":"v","type":"quantitative","stack":null,"scale":{"domain":[0,1],"range":[232,89]},"axis":null},"color":{"field":"l","type":"nominal","scale":{"domain":["L","M","H1","H2","H3"],"range":["#8cff50","#6fd23f","#e5382b","#b72a20","#701812"]}}}},
{"data":{"name":"gbm"},"transform":[{"filter":"datum.c===2"}],"mark":{"type":"bar","stroke":"#666","strokeWidth":0.8},"encoding":{"x":{"field":"m","type":"nominal","sort":null,"scale":{"domain":["ALDH","GFAP","CA-IX","Vimentin","MiB1","Nestin","EGFR","MAP2","NeuN"],"range":[657.1,828.9],"paddingInner":0.25,"paddingOuter":0.125},"axis":{"orient":"bottom","offset":-649,"title":"Biomarker","titleFontSize":7,"labelFontSize":5,"labelAngle":0,"domain":false,"tickSize":1.5,"tickWidth":1,"labelPadding":2.5,"titlePadding":1,"labelOverlap":false}},"y":{"field":"v","type":"quantitative","stack":null,"scale":{"domain":[0,1],"range":[232,89]},"axis":null},"color":{"field":"l","type":"nominal","scale":{"domain":["L","M","H1","H2","H3"],"range":["#8cff50","#6fd23f","#e5382b","#b72a20","#701812"]}}}},
{"data":{"name":"gbm"},"transform":[{"filter":"datum.c===3"}],"mark":{"type":"bar","stroke":"#666","strokeWidth":0.8},"encoding":{"x":{"field":"m","type":"nominal","sort":null,"scale":{"domain":["ALDH","GFAP","CA-IX","Vimentin","MiB1","Nestin","EGFR","MAP2","NeuN"],"range":[441.8,613.2],"paddingInner":0.25,"paddingOuter":0.125},"axis":{"orient":"bottom","offset":-478.3,"title":"Biomarker","titleFontSize":7,"labelFontSize":5,"labelAngle":0,"domain":false,"tickSize":1.5,"tickWidth":1,"labelPadding":2.5,"titlePadding":1,"labelOverlap":false}},"y":{"field":"v","type":"quantitative","stack":null,"scale":{"domain":[0,1],"range":[402.7,259]},"axis":null},"color":{"field":"l","type":"nominal","scale":{"domain":["L","M","H1","H2","H3"],"range":["#8cff50","#6fd23f","#e5382b","#b72a20","#701812"]}}}},
{"data":{"name":"gbm"},"transform":[{"filter":"datum.c===4"}],"mark":{"type":"bar","stroke":"#666","strokeWidth":0.8},"encoding":{"x":{"field":"m","type":"nominal","sort":null,"scale":{"domain":["ALDH","GFAP","CA-IX","Vimentin","MiB1","Nestin","EGFR","MAP2","NeuN"],"range":[657.1,828.9],"paddingInner":0.25,"paddingOuter":0.125},"axis":{"orient":"bottom","offset":-478.3,"title":"Biomarker","titleFontSize":7,"labelFontSize":5,"labelAngle":0,"domain":false,"tickSize":1.5,"tickWidth":1,"labelPadding":2.5,"titlePadding":1,"labelOverlap":false}},"y":{"field":"v","type":"quantitative","stack":null,"scale":{"domain":[0,1],"range":[402.7,259]},"axis":null},"color":{"field":"l","type":"nominal","scale":{"domain":["L","M","H1","H2","H3"],"range":["#8cff50","#6fd23f","#e5382b","#b72a20","#701812"]}}}},
{"data":{"name":"gbm"},"transform":[{"filter":"datum.c===5"}],"mark":{"type":"bar","stroke":"#666","strokeWidth":0.8},"encoding":{"x":{"field":"m","type":"nominal","sort":null,"scale":{"domain":["ALDH","GFAP","CA-IX","Vimentin","MiB1","Nestin","EGFR","MAP2","NeuN"],"range":[441.8,613.2],"paddingInner":0.25,"paddingOuter":0.125},"axis":{"orient":"bottom","offset":-308.3,"title":"Biomarker","titleFontSize":7,"labelFontSize":5,"labelAngle":0,"domain":false,"tickSize":1.5,"tickWidth":1,"labelPadding":2.5,"titlePadding":1,"labelOverlap":false}},"y":{"field":"v","type":"quantitative","stack":null,"scale":{"domain":[0,1],"range":[572.7,429]},"axis":null},"color":{"field":"l","type":"nominal","scale":{"domain":["L","M","H1","H2","H3"],"range":["#8cff50","#6fd23f","#e5382b","#b72a20","#701812"]}}}},
{"data":{"name":"gbm"},"transform":[{"filter":"datum.c===6"}],"mark":{"type":"bar","stroke":"#666","strokeWidth":0.8},"encoding":{"x":{"field":"m","type":"nominal","sort":null,"scale":{"domain":["ALDH","GFAP","CA-IX","Vimentin","MiB1","Nestin","EGFR","MAP2","NeuN"],"range":[657.1,828.9],"paddingInner":0.25,"paddingOuter":0.125},"axis":{"orient":"bottom","offset":-308.3,"title":"Biomarker","titleFontSize":7,"labelFontSize":5,"labelAngle":0,"domain":false,"tickSize":1.5,"tickWidth":1,"labelPadding":2.5,"titlePadding":1,"labelOverlap":false}},"y":{"field":"v","type":"quantitative","stack":null,"scale":{"domain":[0,1],"range":[572.7,429]},"axis":null},"color":{"field":"l","type":"nominal","scale":{"domain":["L","M","H1","H2","H3"],"range":["#8cff50","#6fd23f","#e5382b","#b72a20","#701812"]}}}},
{"data":{"name":"gbm"},"transform":[{"filter":"datum.c===7"}],"mark":{"type":"bar","stroke":"#666","strokeWidth":0.8},"encoding":{"x":{"field":"m","type":"nominal","sort":null,"scale":{"domain":["ALDH","GFAP","CA-IX","Vimentin","MiB1","Nestin","EGFR","MAP2","NeuN"],"range":[441.8,613.2],"paddingInner":0.25,"paddingOuter":0.125},"axis":{"orient":"bottom","offset":-137,"title":"Biomarker","titleFontSize":7,"labelFontSize":5,"labelAngle":0,"domain":false,"tickSize":1.5,"tickWidth":1,"labelPadding":2.5,"titlePadding":1,"labelOverlap":false}},"y":{"field":"v","type":"quantitative","stack":null,"scale":{"domain":[0,1],"range":[744,601]},"axis":null},"color":{"field":"l","type":"nominal","scale":{"domain":["L","M","H1","H2","H3"],"range":["#8cff50","#6fd23f","#e5382b","#b72a20","#701812"]}}}},
{"data":{"name":"gbm"},"transform":[{"filter":"datum.c===8"}],"mark":{"type":"bar","stroke":"#666","strokeWidth":0.8},"encoding":{"x":{"field":"m","type":"nominal","sort":null,"scale":{"domain":["ALDH","GFAP","CA-IX","Vimentin","MiB1","Nestin","EGFR","MAP2","NeuN"],"range":[657.1,828.9],"paddingInner":0.25,"paddingOuter":0.125},"axis":{"orient":"bottom","offset":-137,"title":"Biomarker","titleFontSize":7,"labelFontSize":5,"labelAngle":0,"domain":false,"tickSize":1.5,"tickWidth":1,"labelPadding":2.5,"titlePadding":1,"labelOverlap":false}},"y":{"field":"v","type":"quantitative","stack":null,"scale":{"domain":[0,1],"range":[744,601]},"axis":null},"color":{"field":"l","type":"nominal","scale":{"domain":["L","M","H1","H2","H3"],"range":["#8cff50","#6fd23f","#e5382b","#b72a20","#701812"]}}}},

{"data":{"name":"zone"},"mark":{"type":"area","color":"#666"},"encoding":{"x":{"field":"x","type":"quantitative","scale":{"domain":[0,100],"range":[890,1410]},"axis":null},"y":{"field":"y","type":"quantitative","scale":{"domain":[0,100],"range":[440,70]},"axis":null},"y2":{"field":"y2"}}},
{"data":{"name":"straight"},"transform":[{"filter":"datum.p!==2"}],"mark":{"type":"line"},"encoding":{"x":{"field":"x","type":"quantitative","scale":{"domain":[0,100],"range":[890,1410]},"axis":null},"y":{"field":"y","type":"quantitative","scale":{"domain":[0,100],"range":[440,70]},"axis":null},"order":{"field":"o"},"detail":{"field":"s"},"color":{"field":"k","type":"nominal","scale":{"domain":["edge","arrow","dash","green","red","axis"],"range":["#000","#000","#444","#1a9a1a","#f00","#000"]}},"strokeWidth":{"field":"k","type":"nominal","scale":{"type":"ordinal","domain":["edge","arrow","dash","green","red","axis"],"range":[1.2,1.2,1,1.6,1.6,2]}},"strokeDash":{"field":"k","type":"nominal","scale":{"domain":["edge","arrow","dash","green","red","axis"],"range":[[1,0],[1,0],[4,2],[1,0],[1,0],[1,0]]}}}},
{"data":{"name":"curves"},"mark":{"type":"line","interpolate":"catmull-rom"},"encoding":{"x":{"field":"x","type":"quantitative","scale":{"domain":[0,100],"range":[890,1410]},"axis":null},"y":{"field":"y","type":"quantitative","scale":{"domain":[0,100],"range":[440,70]},"axis":null},"order":{"field":"o"},"detail":{"field":"s"},"color":{"value":"#000"},"strokeWidth":{"field":"k","type":"nominal","scale":{"type":"ordinal","domain":["solid","dash","thin"],"range":[1.5,1.3,1]}},"strokeDash":{"field":"k","type":"nominal","scale":{"domain":["solid","dash","thin"],"range":[[1,0],[2,1],[1,0]]}}}},
{"data":{"name":"heads"},"transform":[{"filter":"datum.p!==2"}],"mark":{"type":"point","shape":"triangle-up","filled":true,"opacity":1},"encoding":{"x":{"field":"x","type":"quantitative","scale":{"domain":[0,100],"range":[890,1410]},"axis":null},"y":{"field":"y","type":"quantitative","scale":{"domain":[0,100],"range":[440,70]},"axis":null},"angle":{"field":"a","type":"quantitative","scale":null},"size":{"field":"k","type":"nominal","scale":{"type":"ordinal","domain":["small","green","red","big"],"range":[22,30,30,90]}},"color":{"field":"k","type":"nominal","scale":{"domain":["small","green","red","big"],"range":["#000","#1a9a1a","#f00","#000"]}}}},
{"data":{"name":"dots"},"mark":{"type":"point","shape":"circle","filled":true,"opacity":1,"size":90},"encoding":{"x":{"field":"x","type":"quantitative","scale":{"domain":[0,100],"range":[890,1410]},"axis":null},"y":{"field":"y","type":"quantitative","scale":{"domain":[0,100],"range":[440,70]},"axis":null},"color":{"field":"k","type":"nominal","scale":{"domain":["B1","B2"],"range":["#0000ff","#aa00aa"]}}}},
{"data":{"values":[
{"t":"Patterns of Disease Dynamics","r":"title","x":50,"y":114.7},{"t":"Relapse of Alcohol Use Disorder","r":"head","x":50,"y":104.6},
{"t":"B₁","r":"b1","x":42.3,"y":86.2},{"t":"B₂","r":"b2","x":41.67,"y":42.34},{"t":"1","r":"g","x":30.83,"y":66.4},{"t":"2","r":"rr","x":55.51,"y":32},
{"t":"highly dynamic zone","r":"zone","x":47.1,"y":58.56},{"t":"between the 2","r":"zone","x":46.8,"y":55.4},{"t":"stable states","r":"zone","x":47.1,"y":52.25},
{"t":"stable state","r":"sred","x":6.73,"y":55.86},{"t":"of \"Heavy Drinking\"","r":"sred","x":9.3,"y":54.7},{"t":"stable state","r":"sgreen","x":84,"y":82.9},{"t":"of \"Sobriety\"","r":"sgreen","x":81.1,"y":83.3},
{"t":"Relapse Predisopsiton","r":"pre","x":89.4,"y":50},{"t":"FHx of alcoholism, nature and","r":"fhx","x":84.16,"y":47.3},{"t":"severity of acloholism,","r":"fhx","x":82.31,"y":46.16},{"t":"comorbid psychiatric and","r":"fhx","x":80.49,"y":45.05},{"t":"substance abuse diaganosis","r":"fhx","x":78.67,"y":43.93},
{"t":"situational threats to self-efficacy, affective states, stressful life events,","r":"cap2","x":49.1,"y":15.6},{"t":"the loss of social/family support, or acute psychological distress","r":"cap2","x":49.36,"y":12.88},
{"t":"Hufford et al . Relapse as a nonlinear dynamic system: application to patients with alcohol use disorders.","r":"cap","x":50.2,"y":5.86},{"t":"J Abnorm Psychol. 2003;112(2):219-27.","r":"cap","x":50.2,"y":3.15}]},
"mark":{"type":"text","fontWeight":"bold","align":"center","baseline":"middle"},
"encoding":{"x":{"field":"x","type":"quantitative","scale":{"domain":[0,100],"range":[890,1410]},"axis":null},"y":{"field":"y","type":"quantitative","scale":{"domain":[0,100],"range":[440,70]},"axis":null},"text":{"field":"t"},"size":{"field":"r","type":"nominal","scale":{"type":"ordinal","domain":["title","head","b1","b2","g","rr","zone","sred","sgreen","pre","fhx","cap","cap2"],"range":[25.8,18,10,10,10,10,9.5,12,12,11.6,9.2,8.7,9.3]}},"angle":{"field":"r","type":"nominal","scale":{"type":"ordinal","domain":["title","head","b1","b2","g","rr","zone","sred","sgreen","pre","fhx","cap","cap2"],"range":[0,0,0,0,0,0,0,278,101,65,66,0,0]}},"color":{"field":"r","type":"nominal","scale":{"domain":["title","head","b1","b2","g","rr","zone","sred","sgreen","pre","fhx","cap","cap2"],"range":["#000","#222","#0000ff","#aa00aa","#1a9a1a","#f00","#fff","#f00","#1a9a1a","#111","#111","#222","#111"]}}}},
{"data":{"values":[{"t":"RELAPSE","r":"big90","x":98.1,"y":59},{"t":"Risk for Relapse","r":"big","x":49.36,"y":19.8},{"t":"high","r":"t90","x":94.74,"y":91.9},{"t":"low","r":"t90","x":94.55,"y":32.16},{"t":"high","r":"t66","x":92.5,"y":28.2},{"t":"high","r":"t0","x":5.9,"y":24.3},{"t":"low","r":"t0","x":90.4,"y":24.14}]},
"mark":{"type":"text","align":"center","baseline":"middle"},
"encoding":{"x":{"field":"x","type":"quantitative","scale":{"domain":[0,100],"range":[890,1410]},"axis":null},"y":{"field":"y","type":"quantitative","scale":{"domain":[0,100],"range":[440,70]},"axis":null},"text":{"field":"t"},"size":{"field":"r","type":"nominal","scale":{"type":"ordinal","domain":["big90","big","t90","t66","t0"],"range":[12.5,12.5,6.5,6.5,6.5]}},"angle":{"field":"r","type":"nominal","scale":{"type":"ordinal","domain":["big90","big","t90","t66","t0"],"range":[90,0,90,66,0]}}}},

{"data":{"name":"zone"},"mark":{"type":"area","color":"#666"},"encoding":{"x":{"field":"x","type":"quantitative","scale":{"domain":[0,100],"range":[890,1410]},"axis":null},"y":{"field":"y","type":"quantitative","scale":{"domain":[0,100],"range":[872.33,502.33]},"axis":null},"y2":{"field":"y2"}}},
{"data":{"name":"straight"},"transform":[{"filter":"datum.p!==1"}],"mark":{"type":"line"},"encoding":{"x":{"field":"x","type":"quantitative","scale":{"domain":[0,100],"range":[890,1410]},"axis":null},"y":{"field":"y","type":"quantitative","scale":{"domain":[0,100],"range":[872.33,502.33]},"axis":null},"order":{"field":"o"},"detail":{"field":"s"},"color":{"field":"k","type":"nominal","scale":{"domain":["edge","arrow","dash","green","red","axis"],"range":["#000","#000","#444","#1a9a1a","#f00","#000"]}},"strokeWidth":{"field":"k","type":"nominal","scale":{"type":"ordinal","domain":["edge","arrow","dash","green","red","axis"],"range":[1.2,1.2,1,1.6,1.6,2]}},"strokeDash":{"field":"k","type":"nominal","scale":{"domain":["edge","arrow","dash","green","red","axis"],"range":[[1,0],[1,0],[4,2],[1,0],[1,0],[1,0]]}}}},
{"data":{"name":"curves"},"mark":{"type":"line","interpolate":"catmull-rom"},"encoding":{"x":{"field":"x","type":"quantitative","scale":{"domain":[0,100],"range":[890,1410]},"axis":null},"y":{"field":"y","type":"quantitative","scale":{"domain":[0,100],"range":[872.33,502.33]},"axis":null},"order":{"field":"o"},"detail":{"field":"s"},"color":{"value":"#000"},"strokeWidth":{"field":"k","type":"nominal","scale":{"type":"ordinal","domain":["solid","dash","thin"],"range":[1.5,1.3,1]}},"strokeDash":{"field":"k","type":"nominal","scale":{"domain":["solid","dash","thin"],"range":[[1,0],[2,1],[1,0]]}}}},
{"data":{"name":"heads"},"mark":{"type":"point","shape":"triangle-up","filled":true,"opacity":1},"encoding":{"x":{"field":"x","type":"quantitative","scale":{"domain":[0,100],"range":[890,1410]},"axis":null},"y":{"field":"y","type":"quantitative","scale":{"domain":[0,100],"range":[872.33,502.33]},"axis":null},"angle":{"field":"a","type":"quantitative","scale":null},"size":{"field":"k","type":"nominal","scale":{"type":"ordinal","domain":["small","green","red","big"],"range":[22,30,30,90]}},"color":{"field":"k","type":"nominal","scale":{"domain":["small","green","red","big"],"range":["#000","#1a9a1a","#f00","#000"]}}}},
{"data":{"name":"dots"},"mark":{"type":"point","shape":"circle","filled":true,"opacity":1,"size":90},"encoding":{"x":{"field":"x","type":"quantitative","scale":{"domain":[0,100],"range":[890,1410]},"axis":null},"y":{"field":"y","type":"quantitative","scale":{"domain":[0,100],"range":[872.33,502.33]},"axis":null},"color":{"field":"k","type":"nominal","scale":{"domain":["B1","B2"],"range":["#0000ff","#aa00aa"]}}}},
{"data":{"values":[
{"t":"Suicide Behaviour of HIV-affected Patients in China","r":"head","x":50.2,"y":105.77},
{"t":"B₁","r":"b1","x":42.2,"y":86.2},{"t":"B₂","r":"b2","x":41.6,"y":42.3},{"t":"1","r":"g","x":30.8,"y":66.6},{"t":"2","r":"rr","x":55.45,"y":32},
{"t":"highly dynamic zone","r":"zone","x":47,"y":58.7},{"t":"between the 2","r":"zone","x":46.67,"y":55.6},{"t":"stable states","r":"zone","x":47,"y":52.4},
{"t":"stable state","r":"sred","x":6.4,"y":56},{"t":"of \"No Suicide\"","r":"sred","x":9,"y":55.6},{"t":"stable state","r":"sgreen","x":83.65,"y":83},{"t":"of \"Suicide\"","r":"sgreen","x":81.4,"y":83},
{"t":"HIV-related Stigma","r":"pre","x":90.06,"y":47.9},
{"t":"social support, social networks, trust in others","r":"cap2","x":49,"y":15.77},
{"t":"Wang W et al. Cusp Catastrophe Modeling of Suicide Behaviors among People Living with HIV in China.","r":"cap","x":50.2,"y":7.84},{"t":"Nonlinear Dynam, Psych, and Life Sci. 2019;23(4):491-515.","r":"cap","x":50.45,"y":5.23}]},
"mark":{"type":"text","fontWeight":"bold","align":"center","baseline":"middle"},
"encoding":{"x":{"field":"x","type":"quantitative","scale":{"domain":[0,100],"range":[890,1410]},"axis":null},"y":{"field":"y","type":"quantitative","scale":{"domain":[0,100],"range":[872.33,502.33]},"axis":null},"text":{"field":"t"},"size":{"field":"r","type":"nominal","scale":{"type":"ordinal","domain":["head","b1","b2","g","rr","zone","sred","sgreen","pre","cap","cap2"],"range":[18,10,10,10,10,9.5,12,12,12,8.7,9.2]}},"angle":{"field":"r","type":"nominal","scale":{"type":"ordinal","domain":["head","b1","b2","g","rr","zone","sred","sgreen","pre","cap","cap2"],"range":[0,0,0,0,0,0,279,99,66,0,0]}},"color":{"field":"r","type":"nominal","scale":{"domain":["head","b1","b2","g","rr","zone","sred","sgreen","pre","cap","cap2"],"range":["#222","#0000ff","#aa00aa","#1a9a1a","#f00","#fff","#f00","#1a9a1a","#111","#222","#111"]}}}},
{"data":{"values":[{"t":"SUICIDE","r":"big90","x":97.95,"y":59.2},{"t":"Social Capital","r":"big","x":49.36,"y":19.73},{"t":"high","r":"t90","x":94.74,"y":91.9},{"t":"low","r":"t90","x":94.4,"y":32.2},{"t":"high","r":"t66","x":92.3,"y":28.6},{"t":"high","r":"t0","x":5.8,"y":24.3},{"t":"low","r":"t0","x":90.4,"y":24.2}]},
"mark":{"type":"text","align":"center","baseline":"middle"},
"encoding":{"x":{"field":"x","type":"quantitative","scale":{"domain":[0,100],"range":[890,1410]},"axis":null},"y":{"field":"y","type":"quantitative","scale":{"domain":[0,100],"range":[872.33,502.33]},"axis":null},"text":{"field":"t"},"size":{"field":"r","type":"nominal","scale":{"type":"ordinal","domain":["big90","big","t90","t66","t0"],"range":[12.5,12.5,6.5,6.5,6.5]}},"angle":{"field":"r","type":"nominal","scale":{"type":"ordinal","domain":["big90","big","t90","t66","t0"],"range":[90,0,90,66,0]}}}}
]}
